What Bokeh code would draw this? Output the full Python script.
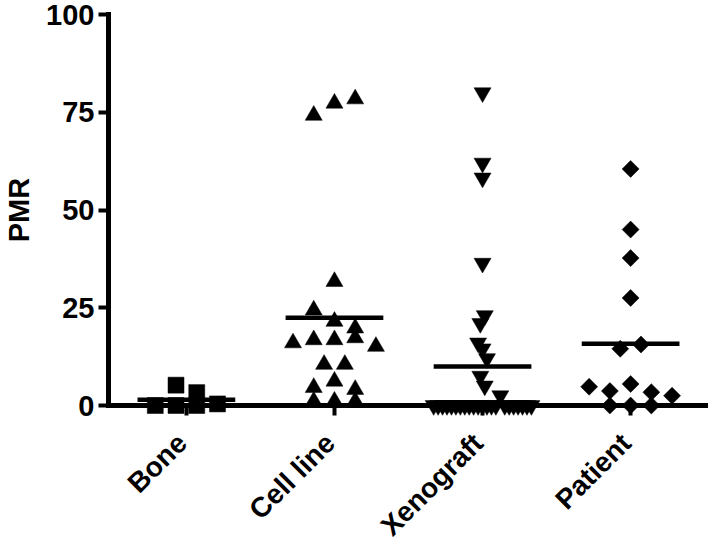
import numpy as np
from bokeh.plotting import figure
from bokeh.models import FixedTicker
from bokeh.core.properties import value
from bokeh.embed import file_html
from bokeh.resources import INLINE

# ---- data ----
categories = ["Bone", "Cell line", "Xenograft", "Patient"]
bone = [5.2, 3.3, 0.0, 0.0, 0.0, 0.4]
cell_line = [74.2, 77.3, 78.4, 31.7, 24.4, 21.5, 19.8, 16.0, 16.8, 16.8,
             17.3, 15.1, 10.5, 10.5, 4.6, 6.2, 4.1, 1.1, 1.1, 1.1]
xenograft = [80.0, 62.0, 58.2, 36.4, 21.0, 23.0, 16.0, 14.5, 12.0, 7.5, 5.0,
             0.0, 0.0, 0.0, 0.0, 0.0, 0.0, 0.0, 0.0, 0.0, 0.0, 0.0, 0.0, 0.0,
             0.0, 0.0, 2.5, 0.0, 0.0, 0.0, 0.0, 0.0, 0.0, 0.0]
patient = [60.5, 45.0, 37.7, 27.5, 14.5, 15.6, 4.8, 3.7, 5.5, 3.4, 2.5,
           0.0, 0.0, 0.0]
y_ticks = [0, 25, 50, 75, 100]

groups = [bone, cell_line, xenograft, patient]
markers = ["square", "triangle", "inverted_triangle", "square"]
marker_sizes = [16, 17, 17, 12]
marker_angles = [0.0, 0.0, 0.0, np.pi / 4]

FONT = "Liberation Sans"


def scatter_offsets(vals, gap=3.5, span=4.7, step=0.14, max_width=0.66):
    """Deterministic column-scatter layout: values that would overlap are
    grouped into rows and each row is spread symmetrically around the
    category centre (similar to a Prism 'scatter dot plot')."""
    order = sorted(range(len(vals)), key=lambda i: -vals[i])
    rows = []
    for i in order:
        if rows:
            row = rows[-1]
            if (vals[row[-1]] - vals[i] <= gap) and (vals[row[0]] - vals[i] <= span):
                row.append(i)
                continue
        rows.append([i])
    nmax = max(len(r) for r in rows)
    s = step if nmax <= 1 else min(step, max_width / (nmax - 1))
    offs = [0.0] * len(vals)
    for r in rows:
        r = sorted(r)
        k = len(r)
        for j, i in enumerate(r):
            offs[i] = (j - (k - 1) / 2) * s
    return offs


p = figure(width=708, height=543, output_backend="svg", toolbar_location=None,
           x_range=(0.474, 4.526), y_range=(0, 100),
           min_border_left=107, min_border_right=0,
           min_border_top=14, min_border_bottom=138,
           background_fill_color="white", border_fill_color="white")
p.outline_line_color = None
p.grid.visible = False

for idx, (vals, mk, sz, ang) in enumerate(zip(groups, markers, marker_sizes, marker_angles)):
    centre = idx + 1
    xs = [centre + o for o in scatter_offsets(vals)]
    r = p.scatter(xs, vals, marker=mk, size=sz, angle=ang,
                  fill_color="black", line_color="black", line_width=0.5)
    r.level = "annotation"

means = [float(np.mean(g)) for g in groups]
centres = np.arange(1, len(categories) + 1)
seg = p.segment(x0=centres - 0.33, x1=centres + 0.33, y0=means, y1=means,
                line_color="black", line_width=4.5)
seg.level = "annotation"

# ---- axes ----
for ax in (p.xaxis[0], p.yaxis[0]):
    ax.axis_line_width = 5
    ax.axis_line_color = "black"
    ax.axis_line_cap = "square"
    ax.major_tick_line_width = 4
    ax.major_tick_line_color = "black"
    ax.major_tick_out = 10
    ax.major_tick_in = 0
    ax.minor_tick_out = 0
    ax.minor_tick_in = 0
    ax.major_label_text_font = FONT
    ax.major_label_text_font_size = "29px"
    ax.major_label_text_font_style = "bold"
    ax.major_label_text_color = "black"

p.yaxis.ticker = FixedTicker(ticks=y_ticks)
p.yaxis.major_label_standoff = 4
p.yaxis.axis_label = "PMR"
p.yaxis.axis_label_text_font = FONT
p.yaxis.axis_label_text_font_size = "29px"
p.yaxis.axis_label_text_font_style = "bold"
p.yaxis.axis_label_text_color = "black"
p.yaxis.axis_label_standoff = 8

# x axis: ticks only; the slanted category names are drawn as text below
p.xaxis.ticker = FixedTicker(ticks=list(centres))
p.xaxis.major_label_overrides = {int(c): "" for c in centres}

label_y = -8.4   # data units below the axis where the slanted names end
label_dx = -0.03  # small shift so the names end just right of each tick
lbl = p.text(x=list(centres + label_dx), y=[label_y] * len(categories), text=categories,
             angle=np.pi / 4, text_align="right", text_baseline="middle",
             text_font=value(FONT), text_font_size=value("28px"),
             text_font_style="bold", text_color="black")
lbl.level = "annotation"

open("out.html", "w").write(file_html(p, INLINE))
